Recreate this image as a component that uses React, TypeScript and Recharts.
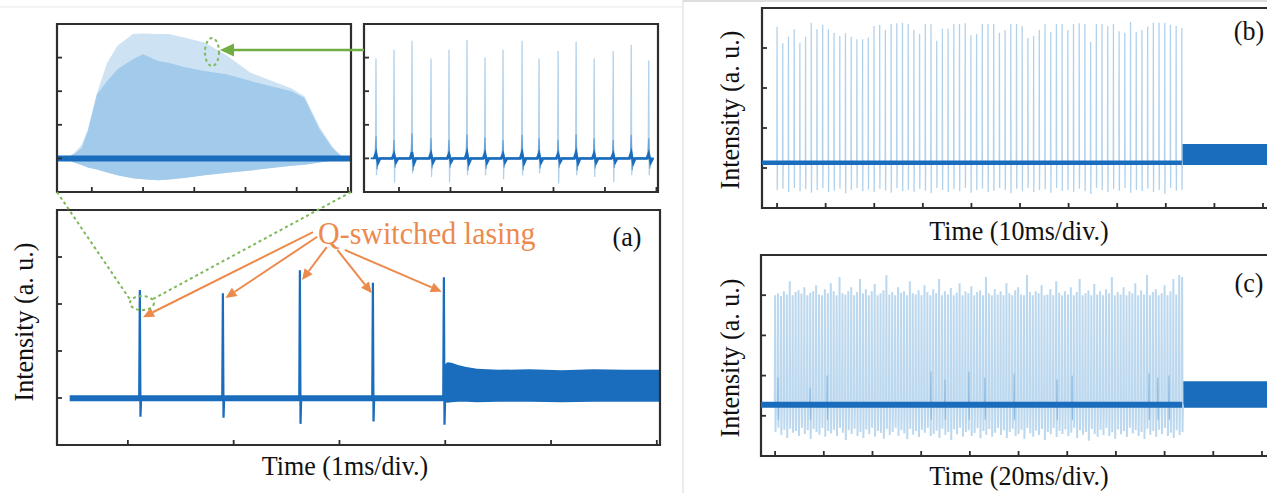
import { ComposedChart, Line, Area, XAxis, YAxis, ReferenceArea, ReferenceLine } from 'recharts'

const SERIF = '"Liberation Serif", "Times New Roman", serif'
const TRACE = '#1a6dbd'
const TRACE_LIGHT = '#b2d2ec'
const TRACE_DENSE = '#bcd8ee'
const TRACE_MID = '#6aa4d6'
const TRACE_SOFT = '#8ebbe2'
const ENV_OUTER = '#cde3f4'
const ENV_INNER = '#a2caea'
const FRAME = '#2e2e2e'
const ORANGE = '#ec8a4e'
const GREEN = '#6fae42'

// panel boxes in page pixels (plot area = frame)
const A_BOX = { left: 57, top: 210, right: 660, bottom: 445 }
const IN1_BOX = { left: 57, top: 24, right: 351, bottom: 192 }
const IN2_BOX = { left: 364, top: 24, right: 658, bottom: 192 }
const B_BOX = { left: 762, top: 8, right: 1280, bottom: 208 }
const C_BOX = { left: 761, top: 255, right: 1280, bottom: 456 }

const Y_DOMAIN: [number, number] = [-1, 4]
const Y_TICKS = [0, 1, 2, 3]
const X_TICKS_5 = [0, 1, 2, 3, 4, 5]
const X_TICKS_10 = [0, 1, 2, 3, 4, 5, 6, 7, 8, 9, 10]

// (a) 1 ms/div: five Q-switched pulses, then CW
const A_SPIKE_T = [0.113, 0.898, 1.626, 2.316, 2.987]
const A_SPIKE_PEAK = [2.3, 2.23, 2.72, 2.45, 2.57]
const A_SPIKE_LOW = [-0.4, -0.42, -0.55, -0.5, -0.57]
const A_BASE_START = -0.55
const A_CW_T = [2.99, 3.02, 3.06, 3.12, 3.2, 3.3, 3.5, 3.8, 4.1, 4.4, 4.7, 5.03]
const A_CW_TOP = [0.7, 0.76, 0.75, 0.7, 0.66, 0.62, 0.6, 0.61, 0.59, 0.61, 0.6, 0.6]
const A_CW_BOT = [-0.08, -0.1, -0.09, -0.08, -0.08, -0.09, -0.08, -0.08, -0.09, -0.08, -0.08, -0.08]
const Q_ARROW_FROM = [[1.75, 3.53], [1.79, 3.43], [1.88, 3.21], [1.98, 3.15], [2.05, 3.15]]
const Q_ARROW_DX = [0.03, 0.025, 0.02, -0.01, -0.02]
const Q_ARROW_DROP = [0.58, 0.1, 0.21, 0.22, 0.31]

// inset: single pulse envelope
const IN1_T = [-0.49, -0.35, -0.2, -0.08, 0.1, 0.3, 0.5, 0.8, 1.0, 1.3, 1.5, 1.8, 2.2, 2.65, 3.1, 3.9, 4.15, 4.45, 4.7, 4.9]
const IN1_OUTER = [0.03, 0.15, 0.4, 0.85, 1.95, 2.85, 3.35, 3.7, 3.72, 3.7, 3.7, 3.6, 3.45, 3.05, 2.55, 2.08, 1.85, 0.92, 0.35, 0.03]
const IN1_INNER = [0.03, 0.12, 0.3, 0.8, 1.9, 2.3, 2.65, 2.95, 3.1, 2.9, 2.85, 2.72, 2.6, 2.5, 2.3, 2.0, 1.8, 0.85, 0.3, 0.03]
const IN1_LOWER = [0, -0.12, -0.2, -0.27, -0.33, -0.42, -0.5, -0.59, -0.62, -0.65, -0.63, -0.58, -0.5, -0.43, -0.36, -0.22, -0.19, -0.12, -0.06, 0]

// inset: mode-locked pulse train inside the envelope
const IN2_SPIKE_T = [-0.447, -0.097, 0.252, 0.621, 0.971, 1.32, 1.67, 2.02, 2.39, 2.72, 3.09, 3.44, 3.79, 4.16, 4.51, 4.85]
const IN2_PEAK = [2.97, 3.23, 3.5, 2.97, 3.23, 3.53, 3.0, 3.23, 3.5, 2.97, 3.2, 3.47, 2.97, 3.2, 3.38, 2.91]
const IN2_LOW = [-0.5, -0.72, -0.45, -0.55, -0.72, -0.5, -0.5, -0.62, -0.5, -0.45, -0.75, -0.5, -0.55, -0.7, -0.5, -0.5]
const IN2_MID = [0.65, 0.55, 0.75, 0.6, 0.55, 0.72, 0.62, 0.55, 0.7, 0.6, 0.55, 0.72, 0.6, 0.55, 0.7, 0.6]
const IN2_BASE = [-0.55, 4.95]

// (b) 10 ms/div
const B_PULSES = [0, 8.33]
const B_PEAK = [
  3.53, 3.12, 3.28, 3.47, 3.13, 3.28, 3.63, 3.47, 3.58, 3.47, 3.38, 3.3, 3.37, 3.28, 3.22, 3.22, 3.26, 3.55, 3.58, 3.45,
  3.6, 3.62, 3.63, 3.6, 3.45, 3.35, 3.6, 3.6, 3.18, 3.48, 3.48, 3.6, 3.6, 3.62, 3.32, 3.35, 3.6, 3.6, 3.6, 3.38,
  3.45, 3.6, 3.6, 3.55, 3.25, 3.3, 3.45, 3.6, 3.4, 3.6, 3.6, 3.45, 3.6, 3.62, 3.6, 3.15, 3.6, 3.6, 3.55, 3.6,
  3.42, 3.38, 3.65, 3.4, 3.45, 3.53, 3.63, 3.63, 3.63, 3.58, 3.55, 3.5,
]
const B_LOW = [
  -0.55, -0.52, -0.6, -0.5, -0.58, -0.53, -0.62, -0.55, -0.5, -0.6, -0.57, -0.52, -0.63, -0.55, -0.5, -0.58, -0.54, -0.6, -0.52, -0.56,
  -0.62, -0.5, -0.58, -0.55, -0.6, -0.52, -0.57, -0.63, -0.5, -0.55, -0.6, -0.53, -0.58, -0.5, -0.62, -0.55, -0.52, -0.6, -0.57, -0.5,
  -0.55, -0.63, -0.52, -0.58, -0.5, -0.6, -0.55, -0.53, -0.62, -0.5, -0.57, -0.55, -0.6, -0.52, -0.58, -0.65, -0.5, -0.55, -0.6, -0.53,
  -0.57, -0.5, -0.62, -0.55, -0.58, -0.52, -0.6, -0.55, -0.65, -0.5, -0.57, -0.55,
]
const B_BASE_LEVEL = 0.13
const B_CW = [0.075, 0.6]

// (c) 20 ms/div
const C_PULSES = [0, 8.36]
const C_PEAK = [
  3.0, 3.05, 2.98, 3.1, 3.02, 3.35, 3.0, 3.08, 3.12, 3.04, 3.2, 3.0, 3.06, 3.1, 3.25, 3.02, 3.0, 3.15, 3.05, 3.3,
  3.1, 3.0, 3.45, 3.05, 3.02, 3.1, 3.2, 3.0, 3.08, 3.4, 3.04, 3.15, 3.0, 3.1, 3.28, 3.0, 3.05, 3.12, 3.5, 3.02,
  3.08, 3.0, 3.2, 3.06, 3.1, 3.0, 3.35, 3.05, 3.02, 3.12, 3.0, 3.25, 3.08, 3.0, 3.15, 3.05, 3.4, 3.0, 3.1, 3.02,
  3.18, 3.0, 3.06, 3.3, 3.0, 3.1, 3.05, 3.22, 3.0, 3.08, 3.12, 3.0, 3.45, 3.05, 3.0, 3.15, 3.02, 3.1, 3.0, 3.3,
  3.05, 3.0, 3.12, 3.2, 3.02, 3.0, 3.5, 3.08, 3.0, 3.1, 3.05, 3.25, 3.0, 3.02, 3.15, 3.0, 3.35, 3.06, 3.0, 3.1,
  3.02, 3.2, 3.0, 3.08, 3.4, 3.0, 3.05, 3.12, 3.0, 3.28, 3.02, 3.1, 3.0, 3.15, 3.05, 3.45, 3.0, 3.08, 3.02, 3.2,
  3.0, 3.1, 3.05, 3.3, 3.0, 3.12, 3.02, 3.5, 3.0, 3.08, 3.15, 3.0, 3.05, 3.25, 3.0, 3.1, 3.4, 3.02, 3.5, 3.45,
]
const C_LOW = [
  -0.4, -0.3, -0.48, -0.35, -0.55, -0.32, -0.42, -0.38, -0.5, -0.3, -0.45, -0.36, -0.58, -0.33, -0.4, -0.47, -0.3, -0.52, -0.38, -0.44,
  -0.35, -0.5, -0.3, -0.42, -0.6, -0.36, -0.45, -0.32, -0.5, -0.4, -0.55, -0.34, -0.46, -0.3, -0.52, -0.38, -0.43, -0.57, -0.33, -0.48,
  -0.4, -0.3, -0.5, -0.36, -0.44, -0.58, -0.32, -0.47, -0.38, -0.53, -0.35, -0.42, -0.3, -0.5, -0.45, -0.37, -0.55, -0.32, -0.48, -0.4,
  -0.6, -0.34, -0.46, -0.3, -0.52, -0.4, -0.36, -0.5, -0.43, -0.31, -0.56, -0.38, -0.47, -0.33, -0.52, -0.42, -0.3, -0.48, -0.36, -0.55,
  -0.4, -0.32, -0.5, -0.45, -0.35, -0.58, -0.3, -0.44, -0.52, -0.37, -0.48, -0.33, -0.6, -0.4, -0.46, -0.31, -0.53, -0.38, -0.45, -0.34,
  -0.5, -0.42, -0.3, -0.55, -0.36, -0.47, -0.4, -0.62, -0.33, -0.45, -0.52, -0.35, -0.48, -0.3, -0.5, -0.41, -0.57, -0.34, -0.46, -0.38,
  -0.53, -0.3, -0.44, -0.36, -0.5, -0.4, -0.58, -0.32, -0.47, -0.38, -0.52, -0.35, -0.45, -0.3, -0.5, -0.42, -0.55, -0.36, -0.48, -0.4,
]
const C_MID_T = [0.06, 0.72, 1.07, 3.2, 3.49, 3.98, 4.31, 4.91, 5.79, 6.1, 7.68, 7.86, 8.09]
const C_MID_PEAK = [0.95, 0.7, 1.0, 1.1, 0.9, 1.1, 0.95, 1.05, 0.9, 1.0, 1.05, 0.95, 1.0]
const C_BASE_LEVEL = 0.275
const C_CW = [0.2, 0.86]

type Pt = { t: number; v?: number; band?: number[] }

function spikes(times: number[], peaks: number[], lows: number[], base: number, w: number): Pt[] {
  const out: Pt[] = []
  times.forEach((t, i) => {
    out.push({ t: t - w, v: base }, { t, v: peaks[i] }, { t: t + w, v: lows[i] ?? base }, { t: t + 2 * w, v: base })
  })
  return out
}

function band(times: number[], lo: number[], hi: number[]): Pt[] {
  return times.map((t, i) => ({ t, band: [lo[i], hi[i]] }))
}

function flatBand(from: number, to: number, range: number[]): Pt[] {
  return [{ t: from, band: range }, { t: to, band: range }]
}

function level(from: number, to: number, v: number): Pt[] {
  return [{ t: from, v }, { t: to, v }]
}

// evenly spaced pulse train between first and last pulse
function pulseTimes(n: number, span: number[]) {
  return Array.from({ length: n }, (_, i) => span[0] + ((span[1] - span[0]) * i) / (n - 1))
}

// inward tick marks, no labels
const leftTick = (p: any) => <line x1={p.x} y1={p.y} x2={p.x + 5} y2={p.y} stroke={FRAME} strokeWidth={1.8} />
const bottomTick = (p: any) => <line x1={p.x} y1={p.y} x2={p.x} y2={p.y - 5} stroke={FRAME} strokeWidth={1.8} />

function axes(xDomain: number[], xTicks: number[]) {
  return [
    <XAxis key="x" type="number" dataKey="t" domain={xDomain} allowDataOverflow ticks={xTicks} interval={0}
      tick={bottomTick} tickSize={0} tickMargin={0} axisLine={false} tickLine={false} height={1} />,
    <YAxis key="y" type="number" domain={Y_DOMAIN} allowDataOverflow ticks={Y_TICKS} interval={0}
      tick={leftTick} tickSize={0} tickMargin={0} axisLine={false} tickLine={false} width={1} />,
  ]
}

function border(xDomain: number[]) {
  return (
    <ReferenceArea x1={xDomain[0]} x2={xDomain[1]} y1={Y_DOMAIN[0]} y2={Y_DOMAIN[1]}
      fill="none" stroke={FRAME} strokeWidth={2.2} ifOverflow="visible" />
  )
}

function Panel({ box, children }: { box: typeof A_BOX; children: any }) {
  const w = box.right - box.left + 4
  const h = box.bottom - box.top + 4
  return (
    <div style={{ position: 'absolute', left: box.left - 2, top: box.top - 2 }}>
      <ComposedChart width={w} height={h} margin={{ top: 2, right: 2, bottom: 1, left: 1 }}>
        {children}
      </ComposedChart>
    </div>
  )
}

const arrowShape = (color: string) => (p: any) => {
  const { x1, y1, x2, y2 } = p
  const a = Math.atan2(y2 - y1, x2 - x1)
  const head = 11
  const bx = x2 - head * Math.cos(a)
  const by = y2 - head * Math.sin(a)
  const hw = 5
  const pts = [
    [x2, y2],
    [bx + hw * Math.sin(a), by - hw * Math.cos(a)],
    [bx - hw * Math.sin(a), by + hw * Math.cos(a)],
  ].map((q) => q.join(',')).join(' ')
  return (
    <g>
      <line x1={x1} y1={y1} x2={bx} y2={by} stroke={color} strokeWidth={2} />
      <polygon points={pts} fill={color} />
    </g>
  )
}

function Label({ x, y, text, size = 26, color = '#111', rotate = false }: any) {
  return (
    <div style={{
      position: 'absolute', left: x, top: y, whiteSpace: 'nowrap', fontFamily: SERIF, fontSize: size,
      color, lineHeight: 1,
      transform: `translate(-50%, -50%)${rotate ? ' rotate(-90deg) scaleY(1.08)' : ' scaleY(1.06)'}`,
    }}>{text}</div>
  )
}

const A_X: number[] = [-0.67, 5.03]
const IN1_X: number[] = [-0.68, 5.06]
const IN2_X: number[] = [-0.68, 5.03]
const B_X: number[] = [-0.31, 10.35]
const C_X: number[] = [-0.29, 10.37]

export default function App() {
  const aSpikes = spikes(A_SPIKE_T, A_SPIKE_PEAK, A_SPIKE_LOW, 0, 0.006)
  const aBase = flatBand(A_BASE_START, A_CW_T[0], [-0.07, 0.06])
  const aCw = band(A_CW_T, A_CW_BOT, A_CW_TOP)

  const in1Outer = band(IN1_T, IN1_LOWER, IN1_OUTER)
  const in1Inner = band(IN1_T, IN1_LOWER, IN1_INNER)
  const in1Base = flatBand(IN1_X[0], IN1_X[1], [-0.09, 0.09])

  const in2Spikes = spikes(IN2_SPIKE_T, IN2_PEAK, IN2_LOW, 0, 0.01)
  const in2Mid = spikes(IN2_SPIKE_T, IN2_MID, IN2_MID.map((m) => -m * 0.5), 0, 0.02)
  const in2Blip = spikes(IN2_SPIKE_T, IN2_MID.map((m) => m * 0.25), IN2_MID.map((m) => -m * 0.2), 0, 0.04)
  const in2Base = level(IN2_BASE[0], IN2_BASE[1], 0)

  const bT = pulseTimes(B_PEAK.length, B_PULSES)
  const bSpikes = spikes(bT, B_PEAK, B_LOW, B_BASE_LEVEL, 0.004)
  const bBase = level(B_X[0], B_PULSES[1], B_BASE_LEVEL)
  const bCw = flatBand(B_PULSES[1], B_X[1], B_CW)

  const cT = pulseTimes(C_PEAK.length, C_PULSES)
  const cSpikes = spikes(cT, C_PEAK, C_LOW, C_BASE_LEVEL, 0.008)
  const cMid = spikes(C_MID_T, C_MID_PEAK, C_MID_T.map(() => -0.1), C_BASE_LEVEL, 0.006)
  const cBase = level(C_X[0], C_PULSES[1], C_BASE_LEVEL)
  const cCw = flatBand(C_PULSES[1], C_X[1], C_CW)

  return (
    <div style={{ position: 'absolute', left: 0, top: 0, width: 1267, height: 493, overflow: 'hidden', background: '#fff' }}>
      <svg width={1267} height={493} style={{ position: 'absolute', left: 0, top: 0 }}>
        <line x1={0} y1={7} x2={683} y2={7} stroke="#f0f0f0" strokeWidth={1.5} />
        <line x1={683} y1={0} x2={683} y2={493} stroke="#ebebeb" strokeWidth={2} />
        <line x1={683} y1={1} x2={1267} y2={1} stroke="#dedede" strokeWidth={2} />
      </svg>

      <Panel box={IN1_BOX}>
        {axes(IN1_X, X_TICKS_5)}
        <Area data={in1Outer} dataKey="band" type="linear" fill={ENV_OUTER} fillOpacity={1} stroke="none" isAnimationActive={false} />
        <Area data={in1Inner} dataKey="band" type="linear" fill={ENV_INNER} fillOpacity={1} stroke="none" isAnimationActive={false} />
        <Area data={in1Base} dataKey="band" type="linear" fill={TRACE} fillOpacity={1} stroke="none" isAnimationActive={false} />
        {border(IN1_X)}
      </Panel>

      <Panel box={IN2_BOX}>
        {axes(IN2_X, X_TICKS_5)}
        <Line data={in2Spikes} dataKey="v" type="linear" dot={false} stroke={TRACE_LIGHT} strokeWidth={1.3} isAnimationActive={false} />
        <Line data={in2Mid} dataKey="v" type="linear" dot={false} stroke={TRACE_MID} strokeWidth={1.2} isAnimationActive={false} />
        <Line data={in2Base} dataKey="v" type="linear" dot={false} stroke={TRACE} strokeWidth={1.8} isAnimationActive={false} />
        <Line data={in2Blip} dataKey="v" type="linear" dot={false} stroke={TRACE} strokeWidth={2.5} isAnimationActive={false} />
        {border(IN2_X)}
      </Panel>

      <Panel box={A_BOX}>
        {axes(A_X, X_TICKS_5)}
        <Area data={aBase} dataKey="band" type="linear" fill={TRACE} fillOpacity={1} stroke="none" isAnimationActive={false} />
        <Area data={aCw} dataKey="band" type="linear" fill={TRACE} fillOpacity={1} stroke="none" isAnimationActive={false} />
        <Line data={aSpikes} dataKey="v" type="linear" dot={false} stroke={TRACE} strokeWidth={2.2} isAnimationActive={false} />
        {Q_ARROW_FROM.map((from, i) => (
          <ReferenceLine key={i} segment={[
            { x: from[0], y: from[1] },
            { x: A_SPIKE_T[i] + Q_ARROW_DX[i], y: A_SPIKE_PEAK[i] - Q_ARROW_DROP[i] },
          ]} shape={arrowShape(ORANGE)} stroke={ORANGE} />
        ))}
        {border(A_X)}
      </Panel>

      <Panel box={B_BOX}>
        {axes(B_X, X_TICKS_10)}
        <Area data={bCw} dataKey="band" type="linear" fill={TRACE} fillOpacity={1} stroke="none" isAnimationActive={false} />
        <Line data={bSpikes} dataKey="v" type="linear" dot={false} stroke={TRACE_LIGHT} strokeWidth={1.3} isAnimationActive={false} />
        <Line data={bBase} dataKey="v" type="linear" dot={false} stroke={TRACE} strokeWidth={4.5} isAnimationActive={false} />
        {border(B_X)}
      </Panel>

      <Panel box={C_BOX}>
        {axes(C_X, X_TICKS_10)}
        <Area data={cCw} dataKey="band" type="linear" fill={TRACE} fillOpacity={1} stroke="none" isAnimationActive={false} />
        <Line data={cSpikes} dataKey="v" type="linear" dot={false} stroke={TRACE_DENSE} strokeWidth={2} isAnimationActive={false} />
        <Line data={cMid} dataKey="v" type="linear" dot={false} stroke={TRACE_SOFT} strokeWidth={1.2} isAnimationActive={false} />
        <Line data={cBase} dataKey="v" type="linear" dot={false} stroke={TRACE} strokeWidth={6} isAnimationActive={false} />
        {border(C_X)}
      </Panel>

      {/* zoom connectors between the insets and the first pulse */}
      <svg width={1267} height={493} style={{ position: 'absolute', left: 0, top: 0, pointerEvents: 'none' }}>
        <g stroke="#7db85a" strokeWidth={2} strokeDasharray="3 3" fill="none">
          <line x1={IN1_BOX.left} y1={IN1_BOX.bottom} x2={131} y2={301} />
          <line x1={IN1_BOX.right} y1={IN1_BOX.bottom} x2={153} y2={299} />
          <ellipse cx={142} cy={303} rx={12} ry={7} />
          <ellipse cx={212} cy={52} rx={7} ry={14} />
        </g>
        <line x1={IN2_BOX.left} y1={50} x2={232} y2={50} stroke={GREEN} strokeWidth={2.5} />
        <polygon points="220,50 234,43.5 234,56.5" fill={GREEN} />
      </svg>

      <Label x={24} y={322} text="Intensity (a. u.)" rotate />
      <Label x={345} y={467} text="Time (1ms/div.)" />
      <Label x={627} y={238} text="(a)" />
      <div style={{ position: 'absolute', left: 318, top: 233, transform: 'translateY(-50%) scaleY(1.08)', transformOrigin: 'left center', fontFamily: SERIF, fontSize: 30, color: ORANGE, lineHeight: 1, whiteSpace: 'nowrap' }}>
        Q-switched lasing
      </div>

      <Label x={730} y={110} text="Intensity (a. u.)" rotate />
      <Label x={1019} y={232} text="Time (10ms/div.)" />
      <Label x={1249} y={32} text="(b)" />

      <Label x={730} y={358} text="Intensity (a. u.)" rotate />
      <Label x={1019} y={477} text="Time (20ms/div.)" />
      <Label x={1249} y={284} text="(c)" />
    </div>
  )
}
